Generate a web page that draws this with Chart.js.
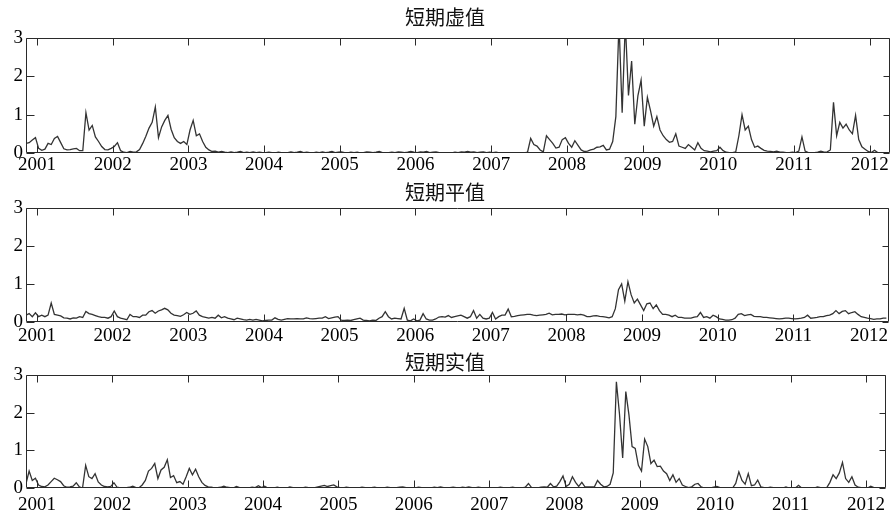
<!DOCTYPE html>
<html>
<head>
<meta charset="utf-8">
<script src="https://cdn.jsdelivr.net/npm/chart.js@4.4.0/dist/chart.umd.min.js"></script>
<style>
  html, body { margin: 0; padding: 0; background: #fff; }
  #wrap { position: relative; width: 891px; height: 516px; overflow: hidden; }
  canvas { position: absolute; left: 0; }
</style>
</head>
<body>
<div id="wrap">
  <canvas id="c1" width="891" height="175" style="top:0px"></canvas>
  <canvas id="c2" width="891" height="170" style="top:175px"></canvas>
  <canvas id="c3" width="891" height="171" style="top:345px"></canvas>
</div>
<script>
// 时间轴：半月一个观测点，起点约 2000.855
const START_YEAR = 2000.855;
const STEP = 1 / 24;
const X_MIN = 2000.855;
const X_MAX = 2012.268;
const YEARS = [2001, 2002, 2003, 2004, 2005, 2006, 2007, 2008, 2009, 2010, 2011, 2012];
const Y_TICKS = [0, 1, 2, 3];

const TITLES = ['短期虚值', '短期平值', '短期实值'];

// 短期虚值
const otmValues = [
  0.25, 0.27, 0.34, 0.40,
  // 2001
  0.12, 0.07, 0.10, 0.25, 0.22, 0.38, 0.43, 0.27, 0.11, 0.08, 0.09, 0.11, 0.12, 0.06, 0.06, 1.05, 0.60, 0.72, 0.42, 0.30, 0.17, 0.09, 0.08, 0.12,
  // 2002
  0.17, 0.27, 0.06, 0.02, 0.01, 0.04, 0.02, 0.03, 0.09, 0.25, 0.44, 0.65, 0.80, 1.20, 0.40, 0.68, 0.85, 0.98, 0.62, 0.40, 0.30, 0.25, 0.30, 0.22,
  // 2003
  0.60, 0.85, 0.45, 0.50, 0.30, 0.15, 0.08, 0.04, 0.05, 0.02, 0.04, 0.02, 0.01, 0.03, 0.01, 0.02, 0.04, 0.01, 0.02, 0.01, 0.03, 0.01, 0.02, 0.01,
  // 2004
  0.01, 0.02, 0.01, 0.00, 0.02, 0.01, 0.00, 0.01, 0.03, 0.01, 0.02, 0.04, 0.01, 0.02, 0.01, 0.00, 0.02, 0.01, 0.03, 0.01, 0.02, 0.04, 0.01, 0.02,
  // 2005
  0.03, 0.01, 0.00, 0.02, 0.01, 0.02, 0.00, 0.01, 0.03, 0.02, 0.01, 0.02, 0.04, 0.01, 0.00, 0.01, 0.02, 0.01, 0.03, 0.02, 0.01, 0.02, 0.04, 0.02,
  // 2006
  0.01, 0.03, 0.02, 0.04, 0.01, 0.02, 0.03, 0.01, 0.00, 0.00, 0.01, 0.00, 0.02, 0.01, 0.03, 0.02, 0.04, 0.02, 0.03, 0.01, 0.02, 0.03, 0.01, 0.02,
  // 2007
  0.01, 0.02, 0.00, 0.00, 0.01, 0.00, 0.00, 0.01, 0.00, 0.01, 0.00, 0.02, 0.38, 0.22, 0.18, 0.08, 0.03, 0.45, 0.35, 0.25, 0.13, 0.15, 0.35, 0.40,
  // 2008
  0.25, 0.15, 0.32, 0.20, 0.08, 0.04, 0.05, 0.08, 0.10, 0.15, 0.16, 0.20, 0.08, 0.10, 0.30, 0.95, 3.40, 1.05, 3.40, 1.50, 2.40, 0.75, 1.50, 1.90,
  // 2009
  0.70, 1.45, 1.10, 0.70, 0.95, 0.60, 0.45, 0.35, 0.28, 0.30, 0.50, 0.18, 0.15, 0.12, 0.22, 0.15, 0.08, 0.27, 0.12, 0.06, 0.05, 0.03, 0.05, 0.06,
  // 2010
  0.15, 0.06, 0.02, 0.01, 0.01, 0.03, 0.45, 1.00, 0.60, 0.70, 0.35, 0.15, 0.18, 0.12, 0.07, 0.05, 0.04, 0.03, 0.05, 0.02, 0.02, 0.01, 0.01, 0.02,
  // 2011
  0.01, 0.05, 0.42, 0.05, 0.01, 0.01, 0.01, 0.02, 0.05, 0.02, 0.03, 0.08, 1.32, 0.45, 0.80, 0.65, 0.75, 0.60, 0.50, 0.98, 0.35, 0.16, 0.10, 0.04,
  // 2012
  0.01, 0.07, 0.01, 0.01, 0.01, 0.01
];

// 短期平值
const atmValues = [
  0.18, 0.22, 0.14, 0.24,
  // 2001
  0.14, 0.18, 0.14, 0.18, 0.50, 0.20, 0.18, 0.16, 0.11, 0.10, 0.08, 0.11, 0.10, 0.14, 0.12, 0.28, 0.22, 0.20, 0.17, 0.14, 0.12, 0.12, 0.10, 0.14,
  // 2002
  0.29, 0.14, 0.10, 0.08, 0.06, 0.20, 0.14, 0.14, 0.12, 0.18, 0.18, 0.27, 0.30, 0.23, 0.29, 0.32, 0.36, 0.32, 0.23, 0.18, 0.17, 0.15, 0.19, 0.25,
  // 2003
  0.20, 0.23, 0.29, 0.18, 0.14, 0.12, 0.10, 0.12, 0.10, 0.18, 0.11, 0.14, 0.10, 0.08, 0.06, 0.10, 0.08, 0.06, 0.05, 0.07, 0.05, 0.07, 0.05, 0.03,
  // 2004
  0.04, 0.05, 0.05, 0.11, 0.07, 0.05, 0.07, 0.09, 0.08, 0.08, 0.09, 0.08, 0.08, 0.11, 0.09, 0.08, 0.09, 0.10, 0.10, 0.14, 0.09, 0.11, 0.13, 0.14,
  // 2005
  0.05, 0.04, 0.05, 0.04, 0.06, 0.08, 0.10, 0.05, 0.04, 0.03, 0.05, 0.04, 0.10, 0.14, 0.27, 0.14, 0.08, 0.10, 0.09, 0.08, 0.36, 0.05, 0.03, 0.08,
  // 2006
  0.03, 0.05, 0.22, 0.08, 0.05, 0.05, 0.08, 0.13, 0.14, 0.13, 0.17, 0.12, 0.14, 0.16, 0.18, 0.14, 0.10, 0.14, 0.30, 0.10, 0.20, 0.10, 0.08, 0.10,
  // 2007
  0.25, 0.08, 0.14, 0.18, 0.18, 0.34, 0.14, 0.15, 0.17, 0.18, 0.19, 0.20, 0.20, 0.18, 0.17, 0.18, 0.19, 0.20, 0.23, 0.19, 0.20, 0.20, 0.21, 0.19,
  // 2008
  0.20, 0.20, 0.20, 0.19, 0.20, 0.18, 0.14, 0.14, 0.16, 0.17, 0.15, 0.14, 0.13, 0.11, 0.14, 0.35, 0.85, 1.00, 0.55, 1.06, 0.72, 0.50, 0.60, 0.45,
  // 2009
  0.30, 0.48, 0.50, 0.35, 0.45, 0.30, 0.20, 0.20, 0.18, 0.14, 0.18, 0.12, 0.12, 0.10, 0.10, 0.10, 0.13, 0.14, 0.25, 0.12, 0.14, 0.10, 0.18, 0.14,
  // 2010
  0.08, 0.07, 0.05, 0.05, 0.06, 0.10, 0.20, 0.22, 0.17, 0.19, 0.20, 0.15, 0.14, 0.14, 0.12, 0.12, 0.11, 0.10, 0.09, 0.08, 0.09, 0.10, 0.10, 0.09,
  // 2011
  0.08, 0.09, 0.10, 0.12, 0.18, 0.10, 0.11, 0.12, 0.14, 0.14, 0.17, 0.18, 0.22, 0.30, 0.22, 0.28, 0.30, 0.22, 0.25, 0.27, 0.20, 0.14, 0.12, 0.10,
  // 2012
  0.09, 0.07, 0.08, 0.08, 0.10, 0.10
];

// 短期实值
const itmValues = [
  0.12, 0.45, 0.20, 0.26,
  // 2001
  0.08, 0.04, 0.03, 0.08, 0.17, 0.26, 0.22, 0.17, 0.06, 0.02, 0.03, 0.05, 0.14, 0.03, 0.00, 0.60, 0.30, 0.25, 0.38, 0.16, 0.08, 0.04, 0.03, 0.04,
  // 2002
  0.14, 0.02, 0.00, 0.00, 0.01, 0.02, 0.05, 0.01, 0.01, 0.08, 0.20, 0.45, 0.52, 0.65, 0.25, 0.48, 0.55, 0.75, 0.28, 0.33, 0.14, 0.17, 0.10, 0.30,
  // 2003
  0.52, 0.35, 0.50, 0.30, 0.15, 0.07, 0.03, 0.02, 0.00, 0.01, 0.02, 0.05, 0.02, 0.01, 0.00, 0.04, 0.01, 0.00, 0.01, 0.00, 0.02, 0.01, 0.06, 0.01,
  // 2004
  0.05, 0.00, 0.01, 0.00, 0.02, 0.00, 0.01, 0.00, 0.03, 0.01, 0.00, 0.01, 0.00, 0.02, 0.01, 0.00, 0.01, 0.03, 0.05, 0.07, 0.04, 0.06, 0.08, 0.03,
  // 2005
  0.01, 0.00, 0.02, 0.01, 0.00, 0.01, 0.00, 0.02, 0.01, 0.00, 0.01, 0.02, 0.00, 0.01, 0.00, 0.02, 0.01, 0.00, 0.01, 0.02, 0.03, 0.01, 0.00, 0.01,
  // 2006
  0.00, 0.02, 0.01, 0.00, 0.01, 0.00, 0.02, 0.01, 0.03, 0.01, 0.00, 0.01, 0.02, 0.01, 0.00, 0.02, 0.01, 0.03, 0.01, 0.00, 0.02, 0.01, 0.00, 0.01,
  // 2007
  0.00, 0.01, 0.00, 0.02, 0.01, 0.00, 0.01, 0.02, 0.00, 0.01, 0.00, 0.02, 0.12, 0.01, 0.00, 0.00, 0.02, 0.03, 0.02, 0.12, 0.03, 0.05, 0.17, 0.32,
  // 2008
  0.04, 0.10, 0.30, 0.15, 0.04, 0.15, 0.03, 0.03, 0.03, 0.03, 0.20, 0.10, 0.03, 0.04, 0.10, 0.40, 2.82, 1.95, 0.80, 2.56, 1.94, 1.10, 1.05, 0.60,
  // 2009
  0.45, 1.30, 1.10, 0.65, 0.74, 0.57, 0.58, 0.45, 0.38, 0.20, 0.35, 0.15, 0.25, 0.08, 0.04, 0.01, 0.03, 0.10, 0.12, 0.03, 0.00, 0.00, 0.00, 0.02,
  // 2010
  0.04, 0.01, 0.00, 0.00, 0.00, 0.00, 0.12, 0.43, 0.20, 0.10, 0.38, 0.06, 0.08, 0.21, 0.03, 0.01, 0.00, 0.02, 0.01, 0.00, 0.01, 0.00, 0.03, 0.00,
  // 2011
  0.01, 0.00, 0.07, 0.00, 0.00, 0.00, 0.01, 0.00, 0.03, 0.01, 0.00, 0.01, 0.15, 0.35, 0.25, 0.40, 0.68, 0.25, 0.15, 0.30, 0.08, 0.02, 0.01, 0.00,
  // 2012
  0.00, 0.05, 0.01, 0.00, 0.00, 0.00
];

const AXIS_COLOR = '#2a2a2a';
const LINE_COLOR = '#333';
const SERIF = "'Liberation Serif', 'Times New Roman', serif";

// MATLAB 风格：四周边框 + 向内的刻度线
const boxTicks = {
  id: 'boxTicks',
  afterDraw(chart) {
    const { ctx, chartArea: a, scales: { x, y } } = chart;
    const L = Math.round(a.left) + 0.5;
    const R = Math.round(a.right) - 0.5;
    const T = Math.round(a.top) + 0.5;
    const B = Math.round(a.bottom) - 0.5;
    ctx.save();
    ctx.strokeStyle = AXIS_COLOR;
    ctx.lineWidth = 1;
    ctx.beginPath();
    ctx.rect(L, T, R - L, B - T);
    YEARS.forEach(v => {
      const px = Math.round(x.getPixelForValue(v)) + 0.5;
      ctx.moveTo(px, T); ctx.lineTo(px, T + 7);
      ctx.moveTo(px, B); ctx.lineTo(px, B - 7);
    });
    Y_TICKS.forEach(v => {
      const py = Math.round(y.getPixelForValue(v)) + 0.5;
      ctx.moveTo(L, py); ctx.lineTo(L + 8, py);
      ctx.moveTo(R, py); ctx.lineTo(R - 6, py);
    });
    ctx.stroke();
    ctx.restore();
  }
};

function makePanel(canvas, title, values, cfg) {
  const points = values.map((v, i) => ({ x: START_YEAR + i * STEP, y: v }));
  return new Chart(canvas, {
    type: 'line',
    data: {
      datasets: [{
        data: points,
        borderColor: LINE_COLOR,
        borderWidth: 1.3,
        pointRadius: 0,
        tension: 0,
        fill: false
      }]
    },
    plugins: [boxTicks],
    options: {
      responsive: false,
      animation: false,
      events: [],
      layout: { padding: { left: 0, right: 1, top: 0, bottom: 0 } },
      scales: {
        x: {
          type: 'linear',
          min: X_MIN,
          max: X_MAX,
          grid: { display: false, drawTicks: false },
          border: { display: false },
          afterBuildTicks(scale) { scale.ticks = YEARS.map(v => ({ value: v })); },
          afterFit(scale) { scale.height = cfg.xAxisHeight; },
          ticks: {
            autoSkip: false,
            maxRotation: 0,
            padding: cfg.xPad,
            color: '#000',
            font: { family: SERIF, size: 19 },
            callback: v => String(v)
          }
        },
        y: {
          min: 0,
          max: 3,
          grid: { display: false, drawTicks: false },
          border: { display: false },
          afterBuildTicks(scale) { scale.ticks = Y_TICKS.map(v => ({ value: v })); },
          afterFit(scale) { scale.width = 26; },
          ticks: {
            padding: 3,
            color: '#000',
            font: { family: SERIF, size: 19 },
            callback: v => String(v)
          }
        }
      },
      plugins: {
        legend: { display: false },
        tooltip: { enabled: false },
        title: {
          display: true,
          text: title,
          color: '#111',
          font: { family: "'Noto Sans CJK SC', sans-serif", size: 20, weight: 'normal' },
          padding: { top: 5, bottom: cfg.titleBottom }
        }
      }
    }
  });
}

makePanel(document.getElementById('c1'), TITLES[0], otmValues, { titleBottom: 9, xAxisHeight: 22, xPad: 1 });
makePanel(document.getElementById('c2'), TITLES[1], atmValues, { titleBottom: 4, xAxisHeight: 23, xPad: 3 });
makePanel(document.getElementById('c3'), TITLES[2], itmValues, { titleBottom: 1, xAxisHeight: 28, xPad: 6 });
</script>
</body>
</html>
